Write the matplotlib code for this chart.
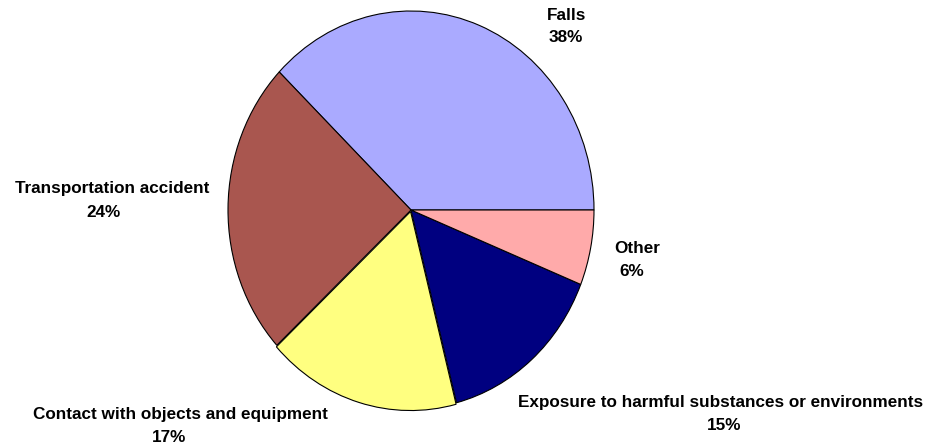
import matplotlib.pyplot as plt

categories = ["Falls", "Transportation accident", "Contact with objects and equipment",
              "Exposure to harmful substances or environments", "Other"]
shares = [37.8, 24.1, 17.1, 14.9, 6.1]
colors = ["#AAAAFF", "#A9564F", "#FFFF80", "#000080", "#FFAAAA"]

plt.rcParams['font.family'] = ['Liberation Sans', 'DejaVu Sans']

W, H = 928, 447
fig = plt.figure(figsize=(W / 100, H / 100), dpi=100)

# pie is a bit taller than wide in the original
cx, cy, rx, ry = 411, 210, 183, 199
ax = fig.add_axes([(cx - rx) / W, (H - cy - ry) / H, 2 * rx / W, 2 * ry / H])
ax.pie(shares, colors=colors, startangle=0, counterclock=True,
       explode=[0, 0, 0.008, 0, 0],
       wedgeprops=dict(edgecolor="black", linewidth=0.8))
ax.set_xlim(-1, 1)
ax.set_ylim(-1, 1)
ax.set_aspect('auto')
ax.axis('off')

# label positions in pixels: (name x, name y, pct x, pct y)
label_pos = [(567, 15, 566, 37),
             (112, 188, 104, 212),
             (180, 414, 169, 437),
             (721, 403, 724, 426),
             (637, 248, 632, 271)]

for name, val, (nx, ny, px, py) in zip(categories, shares, label_pos):
    fig.text(nx / W, 1 - ny / H, name, ha='center', va='center',
             fontsize=12.3, fontweight='bold')
    fig.text(px / W, 1 - py / H, f"{round(val)}%", ha='center', va='center',
             fontsize=12.3, fontweight='bold')

fig.savefig("out.png", dpi=100, facecolor="white")
